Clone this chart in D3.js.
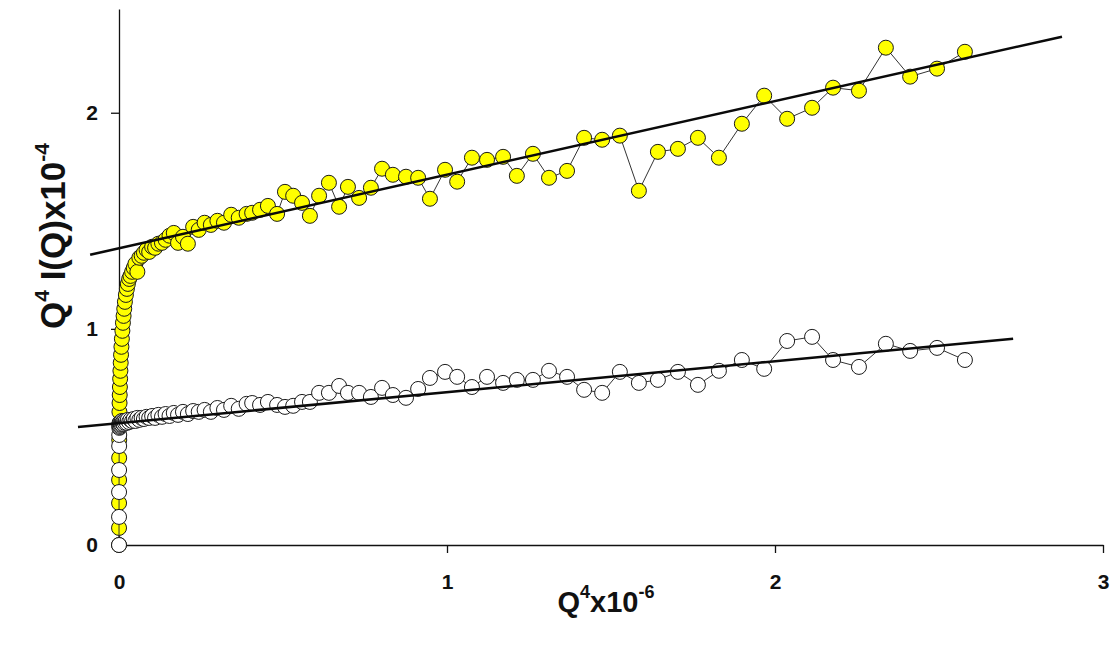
<!DOCTYPE html>
<html>
<head>
<meta charset="utf-8">
<script src="https://cdn.jsdelivr.net/npm/d3@7"></script>
<style>
  html, body { margin: 0; padding: 0; background: #fff; }
  svg { display: block; }
  text { font-family: "Liberation Sans", Arial, sans-serif; font-weight: bold; fill: #111; }
</style>
</head>
<body>
<svg id="chart" width="1117" height="646"></svg>
<script>
// Q^4 values (x 10^-6), shared by both samples
const q4 = [
  0, 0.0001, 0.0002, 0.0003, 0.0005, 0.0007, 0.001, 0.0013, 0.0017, 0.0022,
  0.0028, 0.0035, 0.0043, 0.0052, 0.0062, 0.0074, 0.0088, 0.0103, 0.012, 0.014,
  0.016, 0.018, 0.021, 0.024, 0.027, 0.031, 0.035, 0.040, 0.045, 0.050,
  0.056, 0.062, 0.069, 0.076, 0.084, 0.092, 0.101, 0.110, 0.120, 0.131,
  0.142, 0.154, 0.167, 0.180, 0.195, 0.210, 0.226, 0.243, 0.261, 0.280,
  0.300, 0.320, 0.342, 0.365, 0.389,
  0.406, 0.430, 0.454, 0.482, 0.506, 0.531, 0.558, 0.582, 0.610, 0.640,
  0.671, 0.698, 0.732, 0.768, 0.802, 0.835, 0.875, 0.912, 0.948, 0.994,
  1.031, 1.076, 1.122, 1.171, 1.213, 1.262, 1.311, 1.366, 1.418, 1.473,
  1.527, 1.585, 1.643, 1.704, 1.765, 1.829, 1.899, 1.967, 2.037, 2.113,
  2.177, 2.256, 2.338, 2.412, 2.494, 2.579
];

// Q^4 I(Q) (x 10^-4), yellow sample
const yellowSeries = [
  0.000, 0.079, 0.194, 0.301, 0.403, 0.486, 0.556, 0.616, 0.657, 0.694,
  0.731, 0.769, 0.806, 0.843, 0.880, 0.917, 0.954, 0.991, 1.028, 1.060,
  1.093, 1.125, 1.157, 1.185, 1.208, 1.231, 1.245, 1.264, 1.282, 1.301,
  1.264, 1.329, 1.338, 1.352, 1.366, 1.356, 1.380, 1.375, 1.394, 1.398,
  1.412, 1.431, 1.444, 1.398, 1.426, 1.394, 1.472, 1.458, 1.491, 1.481,
  1.500, 1.491, 1.528, 1.514, 1.532,
  1.537, 1.551, 1.569, 1.532, 1.634, 1.616, 1.583, 1.523, 1.616, 1.676,
  1.565, 1.657, 1.606, 1.653, 1.741, 1.713, 1.704, 1.699, 1.602, 1.736,
  1.681, 1.792, 1.782, 1.796, 1.708, 1.810, 1.699, 1.731, 1.884, 1.875,
  1.894, 1.639, 1.819, 1.833, 1.884, 1.792, 1.949, 2.079, 1.972, 2.023,
  2.116, 2.102, 2.301, 2.167, 2.204, 2.282
];

// Q^4 I(Q) (x 10^-4), white sample
const whiteSeries = [
  0.000, 0.130, 0.245, 0.347, 0.458, 0.509, 0.542, 0.556, 0.565, 0.546,
  0.560, 0.551, 0.569, 0.556, 0.565, 0.560, 0.574, 0.565, 0.569, 0.560,
  0.574, 0.565, 0.574, 0.565, 0.579, 0.569, 0.579, 0.574, 0.583, 0.574,
  0.588, 0.579, 0.588, 0.583, 0.593, 0.588, 0.597, 0.588, 0.602, 0.593,
  0.606, 0.597, 0.611, 0.602, 0.616, 0.606, 0.620, 0.616, 0.625, 0.616,
  0.634, 0.625, 0.644, 0.630, 0.653,
  0.657, 0.648, 0.662, 0.648, 0.639, 0.644, 0.662, 0.662, 0.704, 0.704,
  0.736, 0.704, 0.704, 0.685, 0.727, 0.694, 0.681, 0.722, 0.773, 0.801,
  0.778, 0.731, 0.778, 0.750, 0.764, 0.764, 0.806, 0.778, 0.718, 0.704,
  0.801, 0.750, 0.764, 0.801, 0.741, 0.806, 0.856, 0.815, 0.944, 0.963,
  0.856, 0.824, 0.931, 0.898, 0.912, 0.856
];

// Linear Porod fits (end points of each straight line)
const yellowFitX = [-0.088, 2.875];
const yellowFitY = [1.343, 2.352];
const whiteFitX = [-0.125, 2.726];
const whiteFitY = [0.546, 0.954];

// Axis ticks
const xTicks = [0, 1, 2, 3];
const yTicks = [0, 1, 2];

const svg = d3.select("#chart");

const x = d3.scaleLinear().domain([0, 3]).range([119, 1103]);
const y = d3.scaleLinear().domain([0, 2.48]).range([545, 9]);

// axes
const xAxis = svg.append("g")
  .attr("transform", `translate(0,${y(0)})`)
  .call(d3.axisBottom(x).tickValues(xTicks).tickFormat(d3.format("d"))
    .tickSize(8).tickSizeOuter(0).tickPadding(21));
const yAxis = svg.append("g")
  .attr("transform", `translate(${x(0)},0)`)
  .call(d3.axisLeft(y).tickValues(yTicks).tickFormat(d3.format("d"))
    .tickSize(8).tickSizeOuter(0).tickPadding(13));

[xAxis, yAxis].forEach(g => {
  g.select(".domain").attr("stroke", "#111").attr("stroke-width", 1.3);
  g.selectAll(".tick line").attr("stroke", "#111").attr("stroke-width", 1.3);
  g.selectAll(".tick text")
    .attr("font-family", '"Liberation Sans", Arial, sans-serif')
    .attr("font-weight", "bold")
    .attr("font-size", 21)
    .attr("fill", "#111");
});

// axis titles
const xTitle = svg.append("text")
  .attr("x", 606).attr("y", 612)
  .attr("text-anchor", "middle")
  .attr("font-size", 29);
xTitle.append("tspan").text("Q");
xTitle.append("tspan").attr("font-size", 18).attr("dy", -14).text("4");
xTitle.append("tspan").attr("dy", 14).text("x10");
xTitle.append("tspan").attr("font-size", 18).attr("dy", -14).text("-6");

const yTitle = svg.append("text")
  .attr("transform", "translate(65,236) rotate(-90)")
  .attr("text-anchor", "middle")
  .attr("font-size", 35);
yTitle.append("tspan").text("Q");
yTitle.append("tspan").attr("font-size", 21).attr("dy", -16).text("4");
yTitle.append("tspan").attr("dy", 16).text(" I(Q)x10");
yTitle.append("tspan").attr("font-size", 21).attr("dy", -16).text("-4");

// series: thin connecting line + circle markers
const line = d3.line().x(d => x(d[0])).y(d => y(d[1]));

function drawSeries(values, fill) {
  const pts = q4.map((q, i) => [q, values[i]]);
  const g = svg.append("g");
  g.append("path")
    .attr("d", line(pts))
    .attr("fill", "none")
    .attr("stroke", "#333")
    .attr("stroke-width", 1);
  g.selectAll("circle").data(pts).join("circle")
    .attr("cx", d => x(d[0]))
    .attr("cy", d => y(d[1]))
    .attr("r", 7.5)
    .attr("fill", fill)
    .attr("stroke", "#1a1a1a")
    .attr("stroke-width", 1);
}

drawSeries(yellowSeries, "#ffff00");
drawSeries(whiteSeries, "#ffffff");

// fitted straight lines
function drawFit(fx, fy) {
  svg.append("path")
    .attr("d", line(fx.map((v, i) => [v, fy[i]])))
    .attr("fill", "none")
    .attr("stroke", "#0a0a0a")
    .attr("stroke-width", 2.6);
}
drawFit(yellowFitX, yellowFitY);
drawFit(whiteFitX, whiteFitY);
</script>
</body>
</html>
